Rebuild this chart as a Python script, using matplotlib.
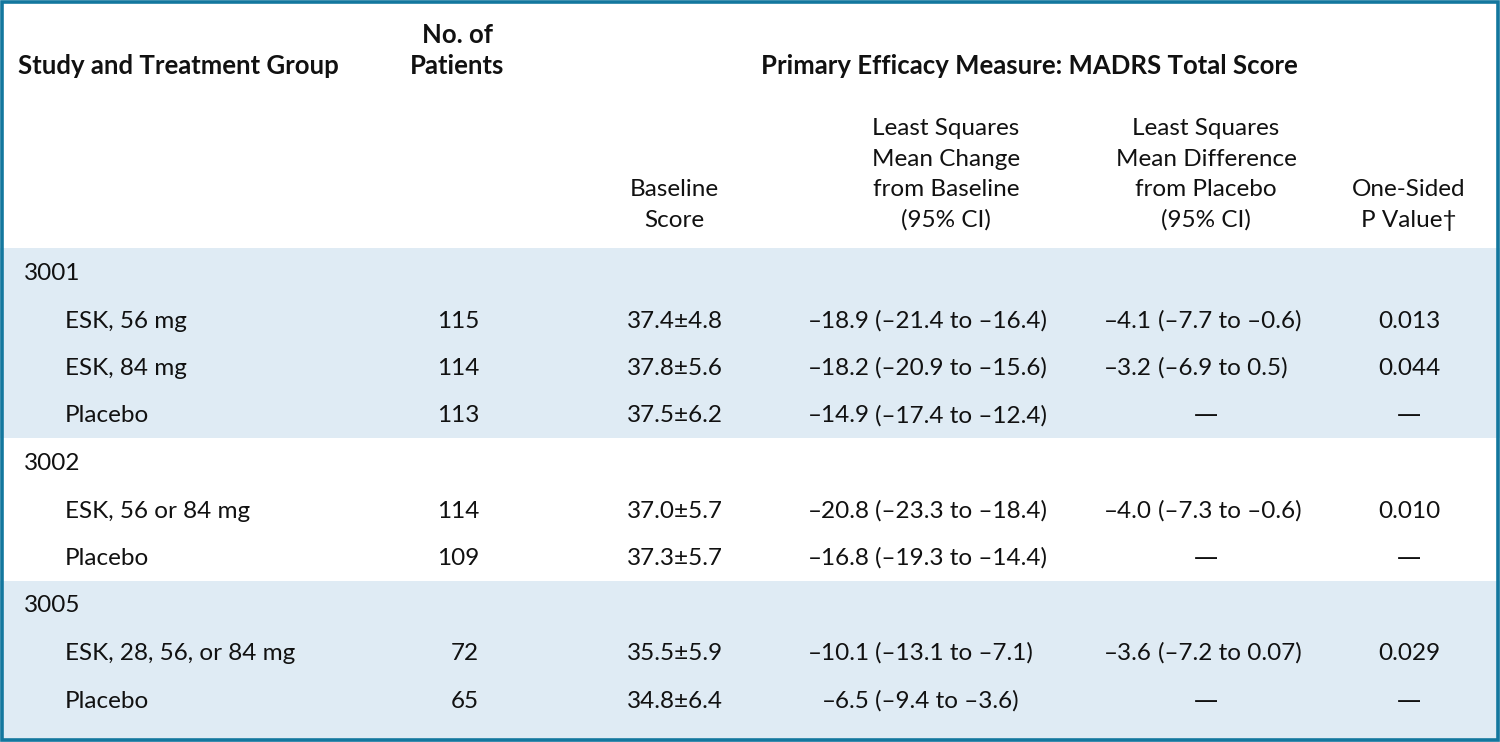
import matplotlib
matplotlib.use("Agg")
from matplotlib import pyplot as plt
from matplotlib.patches import Rectangle

plt.rcParams["font.family"] = ["Lato", "DejaVu Sans"]

# table data
studies = ["3001", "3002", "3005"]
groups = [
    ["ESK, 56 mg", "ESK, 84 mg", "Placebo"],
    ["ESK, 56 or 84 mg", "Placebo"],
    ["ESK, 28, 56, or 84 mg", "Placebo"],
]
n_patients = [[115, 114, 113], [114, 109], [72, 65]]
baseline_mean = [["37.4", "37.8", "37.5"], ["37.0", "37.3"], ["35.5", "34.8"]]
baseline_sd = [["4.8", "5.6", "6.2"], ["5.7", "5.7"], ["5.9", "6.4"]]
change_est = [["\u201318.9", "\u201318.2", "\u201314.9"],
              ["\u201320.8", "\u201316.8"],
              ["\u201310.1", "\u20136.5"]]
change_ci = [["\u201321.4 to \u201316.4", "\u201320.9 to \u201315.6", "\u201317.4 to \u201312.4"],
             ["\u201323.3 to \u201318.4", "\u201319.3 to \u201314.4"],
             ["\u201313.1 to \u20137.1", "\u20139.4 to \u20133.6"]]
diff_est = [["\u20134.1", "\u20133.2", None], ["\u20134.0", None], ["\u20133.6", None]]
diff_ci = [["\u20137.7 to \u20130.6", "\u20136.9 to 0.5", None],
           ["\u20137.3 to \u20130.6", None],
           ["\u20137.2 to 0.07", None]]
p_values = [["0.013", "0.044", None], ["0.010", None], ["0.029", None]]

BAND = "#dfebf4"
FRAME = "#13779e"
W, H = 1500, 742

fig = plt.figure(figsize=(15, 7.42), dpi=100)
ax = fig.add_axes([0, 0, 1, 1])
ax.set_xlim(0, W)
ax.set_ylim(H, 0)
ax.axis("off")

FS = 17.5
FS_B = 18.5


def txt(x, y, s, ha="left", bold=False, **kw):
    ax.text(x, y, s, ha=ha, va="baseline", fontsize=FS_B if bold else FS,
            fontweight="bold" if bold else "normal", color="#111111", **kw)


def dash(x, y):
    # long thin em dash like the original
    txt(x, y, "\u2014", ha="center", family="DejaVu Sans")


# header
txt(18, 74, "Study and Treatment Group", bold=True)
txt(457, 42.7, "No. of", ha="center", bold=True)
txt(457, 74, "Patients", ha="center", bold=True)
txt(1029, 74, "Primary Efficacy Measure: MADRS Total Score", ha="center", bold=True)

sub_y = [135, 165.7, 196.4, 227]
sub_headers = [
    (674, ["Baseline", "Score"]),
    (946, ["Least Squares", "Mean Change", "from Baseline", "(95% CI)"]),
    (1206, ["Least Squares", "Mean Difference", "from Placebo", "(95% CI)"]),
    (1409, ["One-Sided", "P Value\u2020"]),
]
for x, lines in sub_headers:
    for y, s in zip(sub_y[-len(lines):], lines):
        txt(x, y, s, ha="center")

# body
row_h = 47.5
top = 248
first_base = 280
r = 0
for i, study in enumerate(studies):
    n_rows = 1 + len(groups[i])
    y0 = top + r * row_h
    y1 = y0 + n_rows * row_h
    if i == len(studies) - 1:
        y1 = H
    if i % 2 == 0:
        ax.axhspan(y0, y1, color=BAND, lw=0, zorder=0)
    txt(24, first_base + r * row_h, study)
    r += 1
    for j, grp in enumerate(groups[i]):
        y = first_base + r * row_h
        txt(65, y, grp)
        txt(479, y, str(n_patients[i][j]), ha="right")
        txt(674.5, y, f"{baseline_mean[i][j]}\u00b1{baseline_sd[i][j]}", ha="center")
        txt(870, y, change_est[i][j], ha="right")
        txt(875, y, f"({change_ci[i][j]})")
        if diff_est[i][j] is None:
            dash(1206, y)
            dash(1409, y)
        else:
            txt(1152, y, diff_est[i][j], ha="right")
            txt(1158, y, f"({diff_ci[i][j]})")
            txt(1409, y, p_values[i][j], ha="center")
        r += 1

# frame
ax.add_patch(Rectangle((1.75, 1.75), W - 3.5, H - 3.5, fill=False,
                       ec=FRAME, lw=2.6, clip_on=False, zorder=5))

fig.savefig("out.png", dpi=100)
